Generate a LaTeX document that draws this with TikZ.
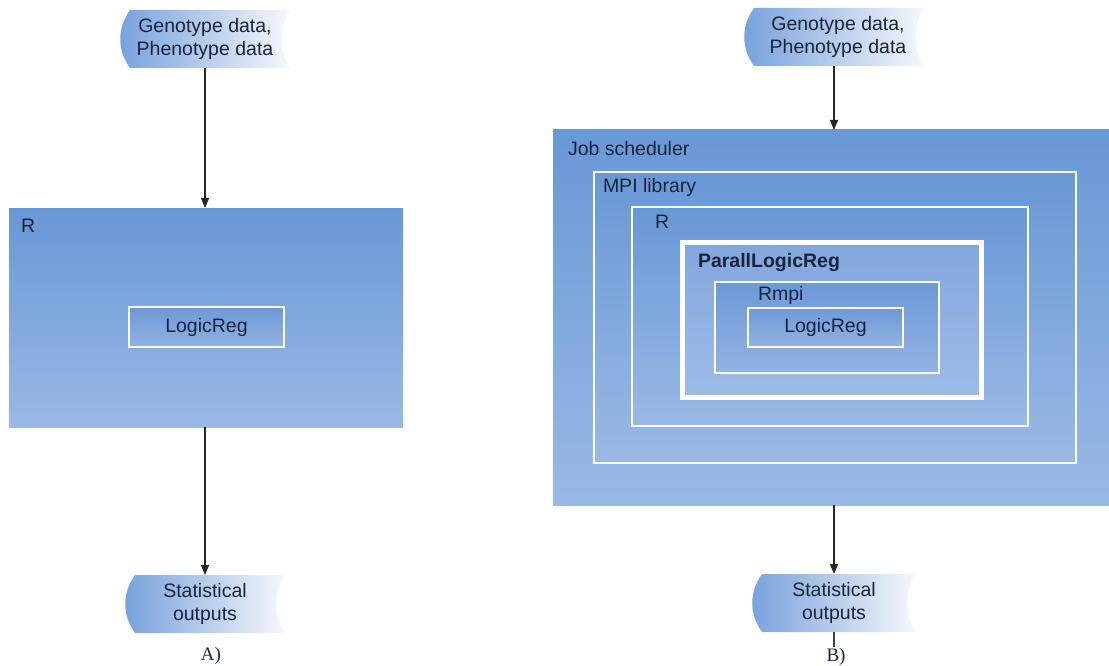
\documentclass[tikz,border=0pt]{standalone}
\usepackage{fontspec}
\setmainfont{Liberation Sans}
\newfontfamily\capfont{Liberation Serif}
\usetikzlibrary{arrows.meta,calc}

\definecolor{boxtop}{RGB}{104,152,214}
\definecolor{boxbot}{RGB}{154,185,229}
\definecolor{partop}{RGB}{130,166,222}
\definecolor{parbot}{RGB}{158,188,231}
\definecolor{intop}{RGB}{108,153,215}
\definecolor{inbot}{RGB}{146,179,226}
\definecolor{datablue}{RGB}{118,160,220}
\definecolor{datamid}{RGB}{160,190,233}
\definecolor{datawhite}{RGB}{246,248,252}
\definecolor{ink}{RGB}{24,36,62}

% rectangle node given by its corners: name, style, x1, y1, x2, y2
\newcommand\layerbox[6]{%
  \node[#2, minimum width={(#5-#3)*1pt}, minimum height={(#6-#4)*1pt}]
    (#1) at ({(#3+#5)/2},{(#4+#6)/2}) {};}

% stored-data outline drawn around a node: convex left, concave right
\newcommand\datashape[1]{%
  \shade[left color=datablue, middle color=datamid, right color=datawhite]
    ($(#1.north west)+(10,0)$) -- (#1.north east)
    .. controls ($(#1.north east)+(-12,18)$) and ($(#1.south east)+(-12,-18)$) .. (#1.south east)
    -- ($(#1.south west)+(10,0)$)
    .. controls ($(#1.south west)+(-3,-18)$) and ($(#1.north west)+(-3,18)$) .. cycle;}

\begin{document}
\begin{tikzpicture}[x=1pt, y=-1pt,
  every node/.style={inner sep=0pt, outer sep=0pt},
  txt/.style={font=\fontsize{19.5}{23}\selectfont, text=ink},
  lbl/.style={txt, anchor=base west},
  datanode/.style={txt, align=center},
  plain/.style={top color=boxtop, bottom color=boxbot},
  framed/.style={draw=white, line width=1.6pt, top color=boxtop, bottom color=boxbot},
  parframe/.style={draw=white, line width=5pt, top color=partop, bottom color=parbot},
  inframe/.style={draw=white, line width=1.6pt, top color=intop, bottom color=inbot},
  flow/.style={line width=1.2pt, draw=black!85, -{Triangle[length=10pt,width=8pt]}},
  caption/.style={font=\capfont\fontsize{19}{22}\selectfont, text=ink, anchor=base}
]
\useasboundingbox (0,0) rectangle (1109,666);

% ---------------- A) sequential version ----------------
\node[datanode, minimum width=170pt, minimum height=58pt] (gA) at (205,39) {};
\datashape{gA}
\node[datanode] at (gA.center) {Genotype data,\\Phenotype data};

\layerbox{rA}{plain}{9}{208}{403}{427}
\node[lbl] (rAlbl) at (21,233) {R};
\layerbox{lgA}{inframe}{129}{307}{284}{347}
\node[txt] (lgAtxt) at (lgA.center) {LogicReg};

\node[datanode, minimum width=160pt, minimum height=58pt] (oA) at (205,604) {};
\datashape{oA}
\node[datanode] at (oA.center) {Statistical\\outputs};

\draw[flow] (gA.south) -- (gA.south |- rA.north);
\draw[flow] (rA.south -| oA.north) -- (oA.north);
\node[caption] (capA) at (211,660) {A)};

% ---------------- B) parallel version ----------------
\node[datanode, minimum width=180pt, minimum height=58pt] (gB) at (834,37) {};
\datashape{gB}
\node[datanode] at ($(gB.center)+(4,0)$) {Genotype data,\\Phenotype data};

\layerbox{job}{plain}{553}{130}{1109}{505}
\node[lbl] (jobl) at (568,156) {Job scheduler};
\layerbox{mpi}{framed}{594}{172}{1076}{463}
\node[lbl] (mpil) at (603,193) {MPI library};
\layerbox{rB}{framed}{632}{207}{1028}{426}
\node[lbl] (rBl) at (655,228) {R};
\layerbox{par}{parframe}{682}{242}{981}{397}
\node[lbl, font=\bfseries\fontsize{19.5}{23}\selectfont] (parl) at (698,267) {ParallLogicReg};
\layerbox{rmpi}{inframe}{715}{282}{939}{373}
\node[lbl] (rmpil) at (758,300) {Rmpi};
\layerbox{lgB}{inframe}{748}{308}{903}{347}
\node[txt] (lgBtxt) at (lgB.center) {LogicReg};

\node[datanode, minimum width=164pt, minimum height=58pt] (oB) at (834,603) {};
\datashape{oB}
\node[datanode] at (oB.center) {Statistical\\outputs};

\draw[flow] (gB.south) -- (job.north -| gB.south);
\draw[flow] (job.south -| oB.north) -- (oB.north);
\coordinate (tickB) at (834,647);
\draw[line width=1.2pt, draw=black!75] (oB.south) -- (tickB);
\node[caption] (capB) at (836,661) {B)};
\end{tikzpicture}
\end{document}
